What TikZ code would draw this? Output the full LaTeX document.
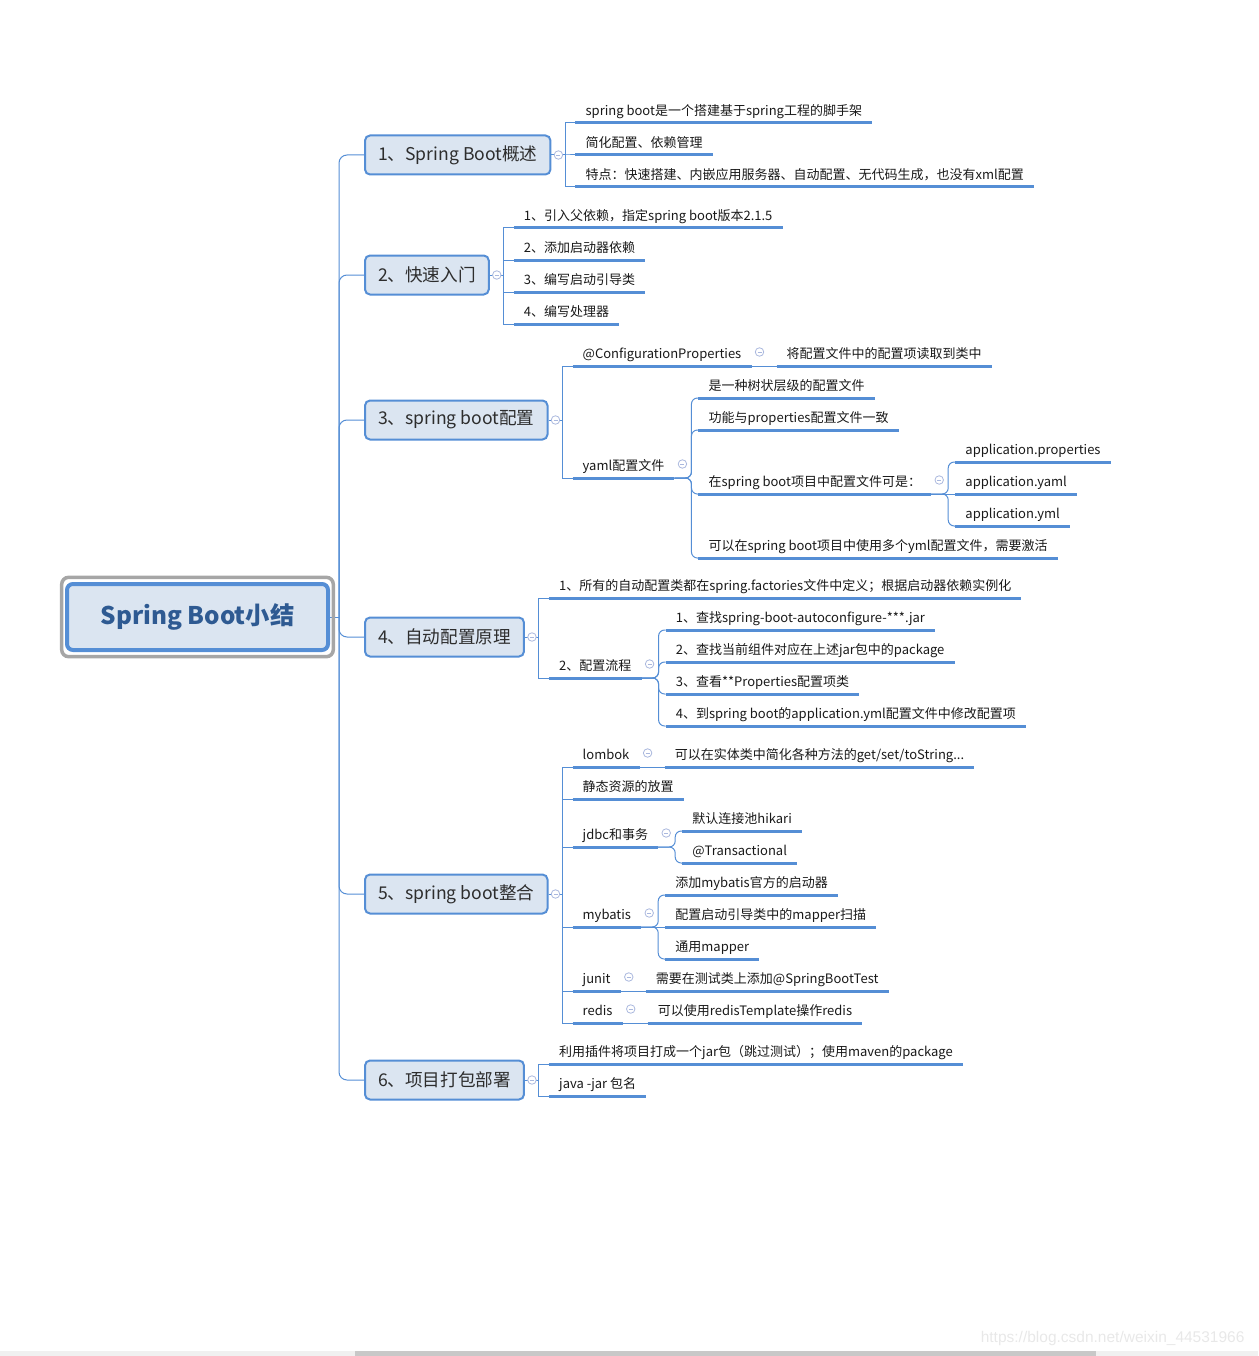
\documentclass[tikz,border=0pt]{standalone}
\usepackage{fontspec}
\setmainfont{Noto Sans CJK SC}
\newfontfamily\markfont{Liberation Sans}
\usetikzlibrary{positioning}
\definecolor{mapblue}{RGB}{85,142,213}
\definecolor{boxfill}{RGB}{219,229,241}
\definecolor{roottext}{RGB}{46,90,146}
\definecolor{topictext}{RGB}{45,45,45}
\definecolor{foldgray}{RGB}{170,184,222}
\definecolor{selgray}{RGB}{166,166,166}
\definecolor{barlight}{RGB}{240,240,240}
\definecolor{bardark}{RGB}{200,200,200}
\tikzset{
    x=1pt, y=1pt,
    root/.style={
        draw=mapblue, line width=4pt,
        fill=boxfill,
        rounded corners=6pt,
        minimum width=261pt, minimum height=66pt,
        font=\bfseries\fontsize{24.3}{28}\selectfont,
        text=roottext
    },
    selframe/.style={draw=selgray, line width=3.5pt, rounded corners=7pt},
    topic/.style={
        draw=mapblue, line width=2pt,
        fill=boxfill,
        rounded corners=5pt,
        anchor=west,
        minimum height=39pt, inner xsep=13pt,
        font=\fontsize{17.6}{20}\selectfont,
        text=topictext
    },
    leaf/.style={
        anchor=south west,
        inner xsep=10pt, inner ysep=4pt,
        text height=10pt, text depth=3pt,
        font=\fontsize{13}{15}\selectfont,
        text=black!90
    },
    uline/.style={draw=mapblue, line width=3pt},
    link/.style={draw=mapblue, line width=1pt},
    fold/.style={
        circle, draw=foldgray, fill=white, line width=0.8pt,
        minimum size=8.5pt, inner sep=0pt,
        path picture={\draw[foldgray, line width=0.8pt]
            ([xshift=-2pt]path picture bounding box.center) --
            ([xshift=2pt]path picture bounding box.center);}
    },
    wmark/.style={font=\markfont\fontsize{15.5}{17}\selectfont, text=black!9}
}

\begin{document}
\begin{tikzpicture}
\useasboundingbox (0,0) rectangle (1258,-1356);

\node[root] (root) at (197.5,-617) {Spring Boot小结};

\node[topic] (t1) at (364,-155) {1、Spring Boot概述};
\node[topic] (t2) at (364,-275) {2、快速入门};
\node[topic] (t3) at (364,-420) {3、spring boot配置};
\node[topic] (t4) at (364,-637) {4、自动配置原理};
\node[topic] (t5) at (364,-894) {5、spring boot整合};
\node[topic] (t6) at (364,-1080) {6、项目打包部署};

\coordinate (hub) at (339,-617);
\foreach \k in {1,...,6}
    \coordinate (k\k) at ([xshift=24pt]t\k.east);

\node[leaf] (a1) at (k1 |- 0,-123) {spring boot是一个搭建基于spring工程的脚手架};
\node[leaf] (a2) at (k1 |- 0,-155) {简化配置、依赖管理};
\node[leaf] (a3) at (k1 |- 0,-187) {特点：快速搭建、内嵌应用服务器、自动配置、无代码生成，也没有xml配置};

\node[leaf] (b1) at (k2 |- 0,-228) {1、引入父依赖，指定spring boot版本2.1.5};
\node[leaf] (b2) at (k2 |- 0,-260) {2、添加启动器依赖};
\node[leaf] (b3) at (k2 |- 0,-292) {3、编写启动引导类};
\node[leaf] (b4) at (k2 |- 0,-324) {4、编写处理器};

\node[leaf] (c1) at (k3 |- 0,-366) {@ConfigurationProperties};
\node[leaf] (c1a) at ([xshift=25pt]c1.south east) {将配置文件中的配置项读取到类中};
\node[leaf] (c2) at (k3 |- 0,-478) {yaml配置文件};
\coordinate (c2k) at ([xshift=24pt]c2.south east);
\node[leaf] (c21) at (c2k |- 0,-398) {是一种树状层级的配置文件};
\node[leaf] (c22) at (c2k |- 0,-430) {功能与properties配置文件一致};
\node[leaf] (c23) at (c2k |- 0,-494) {在spring boot项目中配置文件可是：};
\node[leaf] (c24) at (c2k |- 0,-558) {可以在spring boot项目中使用多个yml配置文件，需要激活};
\coordinate (c23k) at ([xshift=24pt]c23.south east);
\node[leaf] (c231) at (c23k |- 0,-462) {application.properties};
\node[leaf] (c232) at (c23k |- 0,-494) {application.yaml};
\node[leaf] (c233) at (c23k |- 0,-526) {application.yml};

\node[leaf] (d1) at (k4 |- 0,-598) {1、所有的自动配置类都在spring.factories文件中定义；根据启动器依赖实例化};
\node[leaf] (d2) at (k4 |- 0,-678) {2、配置流程};
\coordinate (d2k) at ([xshift=24pt]d2.south east);
\node[leaf] (d21) at (d2k |- 0,-630) {1、查找spring-boot-autoconfigure-***.jar};
\node[leaf] (d22) at (d2k |- 0,-662) {2、查找当前组件对应在上述jar包中的package};
\node[leaf] (d23) at (d2k |- 0,-694) {3、查看**Properties配置项类};
\node[leaf] (d24) at (d2k |- 0,-726) {4、到spring boot的application.yml配置文件中修改配置项};

\node[leaf] (e1) at (k5 |- 0,-767) {lombok};
\node[leaf] (e1a) at ([xshift=25pt]e1.south east) {可以在实体类中简化各种方法的get/set/toString...};
\node[leaf] (e2) at (k5 |- 0,-799) {静态资源的放置};
\node[leaf] (e3) at (k5 |- 0,-847) {jdbc和事务};
\coordinate (e3k) at ([xshift=24pt]e3.south east);
\node[leaf] (e31) at (e3k |- 0,-831) {默认连接池hikari};
\node[leaf] (e32) at (e3k |- 0,-863) {@Transactional};
\node[leaf] (e4) at (k5 |- 0,-927) {mybatis};
\coordinate (e4k) at ([xshift=24pt]e4.south east);
\node[leaf] (e41) at (e4k |- 0,-895) {添加mybatis官方的启动器};
\node[leaf] (e42) at (e4k |- 0,-927) {配置启动引导类中的mapper扫描};
\node[leaf] (e43) at (e4k |- 0,-959) {通用mapper};
\node[leaf] (e5) at (k5 |- 0,-991) {junit};
\node[leaf] (e5a) at ([xshift=25pt]e5.south east) {需要在测试类上添加@SpringBootTest};
\node[leaf] (e6) at (k5 |- 0,-1023) {redis};
\node[leaf] (e6a) at ([xshift=25pt]e6.south east) {可以使用redisTemplate操作redis};

\node[leaf] (g1) at (k6 |- 0,-1064) {利用插件将项目打成一个jar包（跳过测试）；使用maven的package};
\node[leaf] (g2) at (k6 |- 0,-1096) {java -jar 包名};

\foreach \n in {a1,a2,a3,b1,b2,b3,b4,c1,c1a,c2,c21,c22,c23,c24,c231,c232,c233,
                d1,d2,d21,d22,d23,d24,e1,e1a,e2,e3,e31,e32,e4,e41,e42,e43,
                e5,e5a,e6,e6a,g1,g2}
    \draw[uline] (\n.south west) -- (\n.south east);

\draw[link] (root.east) -- (hub);
\foreach \t in {t1,t2,t3,t4,t5,t6}
    \draw[link, rounded corners=8pt] (hub) |- (\t.west);

\foreach \n in {a1,a2,a3}
    \draw[link] (t1.east) -- ++(14,0) |- (\n.south west);
\foreach \n in {b1,b2,b3,b4}
    \draw[link] (t2.east) -- ++(14,0) |- (\n.south west);
\foreach \n in {c1,c2}
    \draw[link] (t3.east) -- ++(14,0) |- (\n.south west);
\foreach \n in {d1,d2}
    \draw[link] (t4.east) -- ++(14,0) |- (\n.south west);
\foreach \n in {e1,e2,e3,e4,e5,e6}
    \draw[link] (t5.east) -- ++(14,0) |- (\n.south west);
\foreach \n in {g1,g2}
    \draw[link] (t6.east) -- ++(14,0) |- (\n.south west);

\draw[link] (c1.south east) -- (c1a.south west);
\draw[link] (e1.south east) -- (e1a.south west);
\draw[link] (e5.south east) -- (e5a.south west);
\draw[link] (e6.south east) -- (e6a.south west);
\foreach \n in {c21,c22,c23,c24}
    \draw[link, rounded corners=6pt] (c2.south east) -- ++(17,0) |- (\n.south west);
\foreach \n in {c231,c233}
    \draw[link, rounded corners=6pt] (c23.south east) -- ++(17,0) |- (\n.south west);
\draw[link] (c23.south east) -- (c232.south west);
\foreach \n in {d21,d22,d23,d24}
    \draw[link, rounded corners=6pt] (d2.south east) -- ++(17,0) |- (\n.south west);
\foreach \n in {e31,e32}
    \draw[link, rounded corners=6pt] (e3.south east) -- ++(17,0) |- (\n.south west);
\foreach \n in {e41,e43}
    \draw[link, rounded corners=6pt] (e4.south east) -- ++(17,0) |- (\n.south west);
\draw[link] (e4.south east) -- (e42.south west);

\foreach \k in {1,...,6}
    \node[fold] (f\k) at ([xshift=7pt]t\k.east) {};
\foreach \n in {c1,c2,c23,d2,e1,e3,e4,e5,e6}
    \node[fold] (f\n) at ([xshift=8pt,yshift=14pt]\n.south east) {};

\draw[selframe] ([shift={(-3.3,4.7)}]root.north west) rectangle ([shift={(3.3,-4.7)}]root.south east);

\node[wmark, anchor=east] (wm) at (1248,-1338) {https://blog.csdn.net/weixin\_44531966};
\fill[barlight] (0,-1351) rectangle (1258,-1356);
\fill[bardark] (355,-1351) rectangle (1096,-1356);
\end{tikzpicture}
\end{document}
